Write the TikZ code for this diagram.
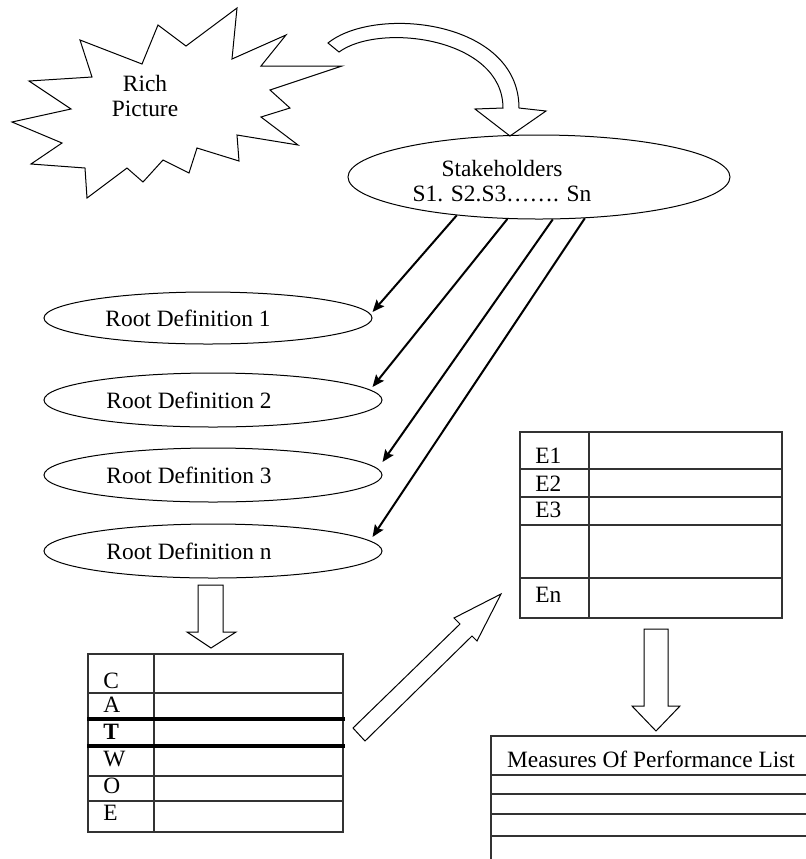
\documentclass[tikz,border=0pt]{standalone}
\usepackage{fontspec}
\setmainfont{Liberation Serif}
\usepackage{tikz}
\usetikzlibrary{shapes.geometric}
\usetikzlibrary{arrows.meta,calc}
\tikzset{
	rootdef/.style={ellipse,draw,line width=0.5pt,minimum width=169pt,minimum height=27pt,inner sep=0pt},
	blockarrow/.style={draw,line width=0.5pt,fill=white,line join=miter},
	stakearrow/.style={line width=1pt,-{Stealth[length=6pt,width=5pt,inset=1pt]}},
	gridline/.style={line width=0.6pt,draw=black!80},
	boldline/.style={line width=1.6pt},
	celltext/.style={anchor=base west,inner sep=0pt}
}

\begin{document}
\begin{tikzpicture}[x=0.5pt,y=-0.5pt,font=\fontsize{11.7}{12.5}\selectfont]
		\useasboundingbox (0,0) rectangle (806,859);
		\clip (0,0) rectangle (806,859);
		
		% rich picture burst
		\draw[line width=0.5pt,line join=miter] (80,40) -- (142,64) -- (158,25) -- (186,46) -- (237,8) -- (232,59) -- (286,35) -- (261,66) -- (342,66) -- (270,90) -- (290,108) -- (261,117) -- (298,145) -- (237,135) -- (239,161) -- (197,148) -- (189,173) -- (163,160) -- (143,182) -- (127,168) -- (87,198) -- (85,168) -- (31,164) -- (62,143) -- (12,122) -- (71,109) -- (29,81) -- (92,77) -- cycle;
		\node[align=center] (rich) at (145,96) {Rich\\Picture};
		
		% curved block arrow
		\draw[blockarrow] (328,43) .. controls (375,5) and (519,20) .. (519,108) -- (546,111) -- (510,136) -- (475,109) -- (503,108) .. controls (503,38) and (380,22) .. (339,52) -- cycle;
		
		\node[ellipse,draw,line width=0.5pt,minimum width=191pt,minimum height=42pt,inner sep=0pt,label={[xshift=-18.5pt,yshift=-2pt,align=center]center:Stakeholders\\S1. S2.S3……. Sn}] (sh) at (539,177) {};
		
		\node[rootdef,minimum width=164pt,minimum height=26pt,label={[xshift=-10pt]center:Root Definition 1}] (rd1) at (208,318) {};
		\node[rootdef,label={[xshift=-12pt]center:Root Definition 2}] (rd2) at (213,400) {};
		\node[rootdef,label={[xshift=-12pt]center:Root Definition 3}] (rd3) at (213,475) {};
		\node[rootdef,label={[xshift=-12pt]center:Root Definition n}] (rdn) at (213,551) {};
		
		\draw[stakearrow] (sh.205) -- ([yshift=3pt]rd1.east);
		\draw[stakearrow] (sh.233) -- ([shift={(-5pt,6.5pt)}]rd2.east);
		\draw[stakearrow] (sh.288) -- ([yshift=6.5pt]rd3.east);
		\draw[stakearrow] (sh.318) -- ([shift={(-5pt,7pt)}]rdn.east);
		
		% down arrows and diagonal arrow
		\draw[blockarrow] (198,585) -- (223,585) -- (223,632) -- (236,632) -- (211,648) -- (187,632) -- (198,632) -- cycle;
		\draw[blockarrow] (644,629) -- (668,629) -- (668,706) -- (680,706) -- (656,731) -- (632,706) -- (644,706) -- cycle;
		\draw[blockarrow] (353,728) -- (460,624) -- (454,618) -- (501,594) -- (477,641) -- (472,636) -- (365,741) -- cycle;
		
		% CATWOE table
		\draw[gridline] (88,654) rectangle (343,832);
		\draw[gridline] (154,654) -- (154,832);
		\foreach \y in {693,776,801} \draw[gridline] (88,\y) -- (343,\y);
		\foreach \y in {719,746} \draw[boldline] (87,\y) -- (345,\y);
		\node[celltext] (cc) at (103,688) {C};
		\node[celltext] (ca) at (103,712) {A};
		\node[celltext] (ct) at (103,739) {\textbf{T}};
		\node[celltext] (cw) at (103,766) {W};
		\node[celltext] (co) at (103,793) {O};
		\node[celltext] (ce) at (103,820) {E};
		
		% E table
		\draw[gridline] (520,432) rectangle (782,618);
		\draw[gridline] (589,432) -- (589,618);
		\foreach \y in {469,497,525,578} \draw[gridline] (520,\y) -- (782,\y);
		\node[celltext] (e1) at (535,463) {E1};
		\node[celltext] (e2) at (535,491) {E2};
		\node[celltext] (e3) at (535,517) {E3};
		\node[celltext] (en) at (535,602) {En};
		
		% measures of performance list
		\draw[gridline] (491,859) -- (491,736) -- (806,736);
		\foreach \y in {775,794,814,836} \draw[gridline] (491,\y) -- (806,\y);
		\node[anchor=base,inner sep=0pt] (mop) at (651,767) {Measures Of Performance List};
		
	\end{tikzpicture}
\end{document}
